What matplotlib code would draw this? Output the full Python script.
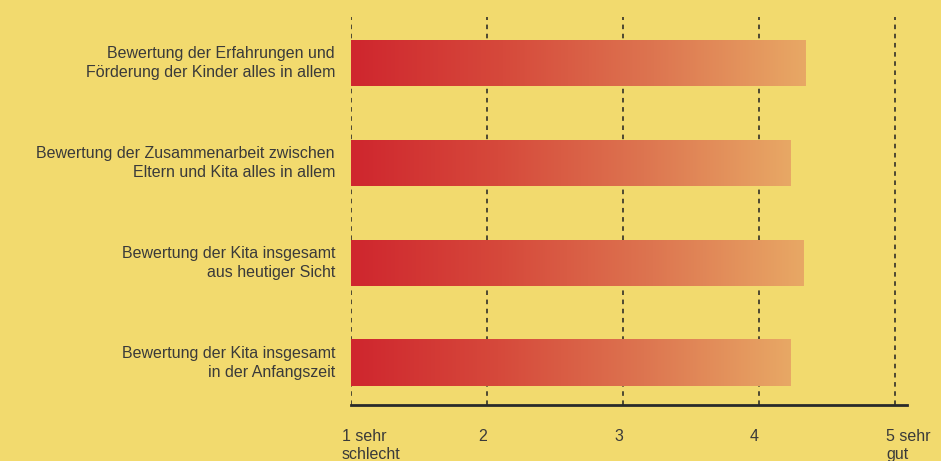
import matplotlib
matplotlib.use("Agg")
import matplotlib.pyplot as plt
import matplotlib.transforms as mtransforms
from matplotlib.colors import LinearSegmentedColormap
import numpy as np

plt.rcParams['font.family'] = ['Liberation Sans', 'DejaVu Sans']

# data
labels = [
    "Bewertung der Erfahrungen und\nFörderung der Kinder alles in allem",
    "Bewertung der Zusammenarbeit zwischen\nEltern und Kita alles in allem",
    "Bewertung der Kita insgesamt\naus heutiger Sicht",
    "Bewertung der Kita insgesamt\nin der Anfangszeit",
]
values = [4.34, 4.23, 4.33, 4.23]
tick_pos = [1, 2, 3, 4, 5]
tick_labels = ["1 sehr\nschlecht", "2", "3", "4", "5 sehr\ngut"]

bg = "#F2DA6E"
text_col = "#3a3a3a"
cmap = LinearSegmentedColormap.from_list(
    "bar", ["#CF262E", "#D6493B", "#DD7550", "#E8A865"])

fig = plt.figure(figsize=(9.41, 4.61), dpi=100, facecolor=bg)
ax = fig.add_axes([351 / 941, 1 - 405 / 461, (907 - 351) / 941, (405 - 17) / 461])
ax.set_facecolor(bg)

# dashed grid lines
for t in tick_pos:
    ax.axvline(t, color="#222222", lw=1.1, ls=(0, (3, 3)), zorder=1)

# gradient bars
h = 0.46
grad = np.linspace(0, 1, 256).reshape(1, -1)
for i, v in enumerate(values):
    ax.imshow(grad, cmap=cmap, aspect="auto", zorder=2,
              extent=[1, v, i + h / 2, i - h / 2], interpolation="bilinear")

ax.set_xlim(1, 5.088)
ax.set_ylim(3.42, -0.46)

# category labels
lab_tr = mtransforms.blended_transform_factory(ax.transAxes, ax.transData)
for i, lab in enumerate(labels):
    ax.text(-16 / 556, i, lab, ha="right", va="center", fontsize=11.5,
            color=text_col, linespacing=1.35, transform=lab_tr)

for s in ["top", "right", "left"]:
    ax.spines[s].set_visible(False)
ax.spines["bottom"].set_color("#2a2a2a")
ax.spines["bottom"].set_linewidth(2)
ax.spines["bottom"].set_zorder(3)

ax.set_yticks([])
ax.set_xticks(tick_pos)
ax.set_xticklabels(tick_labels, fontsize=11.5, color=text_col, ha="left",
                   va="top", linespacing=1.3)
ax.tick_params(axis="x", length=0, pad=17)
offset = mtransforms.ScaledTranslation(-9 / 100, 0, fig.dpi_scale_trans)
for lbl in ax.get_xticklabels():
    lbl.set_transform(lbl.get_transform() + offset)

fig.savefig("out.png", dpi=100, facecolor=bg)
